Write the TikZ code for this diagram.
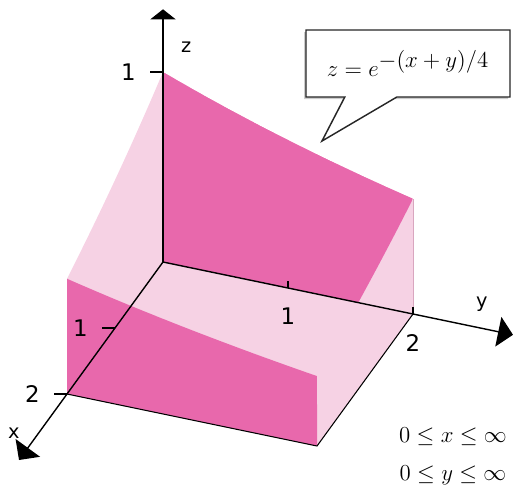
\RequirePackage{fix-cm}
\documentclass[tikz,border=0pt]{standalone}
\usepackage{fontspec}
\setsansfont{DejaVu Sans}
\usetikzlibrary{arrows.meta,positioning,shapes.callouts,shadows}
\definecolor{surfdark}{HTML}{E868AC}
\definecolor{surflight}{HTML}{F6D2E4}
\definecolor{surfedge}{HTML}{D9A6BF}

\begin{document}
\begin{tikzpicture}[
  axis/.style={line width=0.8pt, -{Triangle[width=6mm,length=3mm]}},
  zaxis/.style={line width=0.8pt, -{Triangle[width=5mm,length=2mm]}},
  tick/.style={line width=0.7pt},
  floor/.style={line width=0.6pt},
  num/.style={font=\sffamily\fontsize{13}{15}\selectfont, inner sep=0.5pt},
  letter/.style={font=\sffamily\fontsize{11}{13}\selectfont, inner sep=0.5pt},
  bubble/.style={rectangle callout, draw=black!85, line width=0.8pt, fill=white,
                 minimum width=40.8mm, minimum height=13.4mm,
                 callout pointer width=10.4mm, font=\fontsize{13}{15}\selectfont,
                 drop shadow={shadow xshift=-0.4mm, shadow yshift=-0.4mm, fill=black!40}},
  domaintext/.style={font=\fontsize{13}{15}\selectfont, anchor=base, inner sep=0pt},
]
\useasboundingbox (0,0) rectangle (102.6mm,98mm);

\begin{scope}[shift={(32.6mm,45.6mm)}, x={(-9.6mm,-13.2mm)}, y={(25mm,-5.2mm)}, z={(0mm,38mm)}]
% outline of the solid
\fill[surflight] (0,0,1) -- plot[domain=0:2,samples=25] (0,\x,{exp(-\x/4)})
   -- (0,2,0) -- (2,2,0) -- (2,0,0)
   -- plot[domain=2:0,samples=25] (\x,0,{exp(-\x/4)}) -- cycle;

% back face, where the top surface lies over it
\begin{scope}
  \clip plot[domain=0:2,samples=25] (0,\x,{exp(-\x/4)})
     -- plot[domain=0:2,samples=25] (\x,2,{exp(-(\x+2)/4)})
     -- plot[domain=2:0,samples=25] (2,\x,{exp(-(\x+2)/4)})
     -- plot[domain=2:0,samples=25] (\x,0,{exp(-\x/4)}) -- cycle;
  \fill[surfdark] (0,0,0) -- plot[domain=0:2,samples=25] (0,\x,{exp(-\x/4)})
     -- (0,2,0) -- cycle;
\end{scope}

% front face
\fill[surfdark] (2,0,0) -- plot[domain=0:2,samples=25] (2,\x,{exp(-(\x+2)/4)})
   -- (2,2,0) -- cycle;
\draw[surfedge, line width=0.4pt] (0,2,0) -- (0,2,{exp(-0.5)});

% floor
\draw[floor] (2,0,0) -- (2,2,0) -- (0,2,0);

% axes
\coordinate (O) at (0,0,0);
\draw[axis] (O) -- (3,0,0) coordinate (xend);
\draw[axis] (O) -- (0,2.8,0) coordinate (yend);
\draw[zaxis] (O) -- (0,0,1.33) coordinate (zend);

% ticks
\draw[tick] (0,0,1) -- ++(-2.6mm,0) coordinate (zt1);
\draw[tick] (1,0,0) -- ++(-2.6mm,0) coordinate (xt1);
\draw[tick] (2,0,0) -- ++(-2.6mm,0) coordinate (xt2);
\draw[tick] (0,1,0) coordinate (yt1) -- ++(0,1.4mm);
\draw[tick] (0,2,0) coordinate (yt2) -- ++(0,1.4mm);

\node[num, left=2.6mm of zt1] (lz1) {1};
\node[num, left=2.6mm of xt1] (lx1) {1};
\node[num, left=2.6mm of xt2] (lx2) {2};
\node[num, below=3.8mm of yt1] (ly1) {1};
\node[num, below=3.8mm of yt2] (ly2) {2};

\coordinate (zlab) at (0,0,1.13);
\coordinate (ylab) at (0,2.55,0);
\coordinate (xlab) at (2.6,0,0);
\node[letter, right=3.4mm of zlab] (lz) {z};
\node[letter, above=3.2mm of ylab] (ly) {y};
\node[letter, left=3.5mm of xlab] (lx) {x};
\end{scope}

% formula and domain
\node[bubble, callout absolute pointer={(64.4mm,69.8mm)}] (formula) at (81.6mm,85.3mm)
     {$z = e^{\textstyle -(x+y)/4}$};
\node[domaintext] (xrange) at (90.6mm,9.6mm) {$0 \leq x \leq \infty$};
\node[domaintext] (yrange) at (90.6mm,2.0mm) {$0 \leq y \leq \infty$};
\end{tikzpicture}
\end{document}
